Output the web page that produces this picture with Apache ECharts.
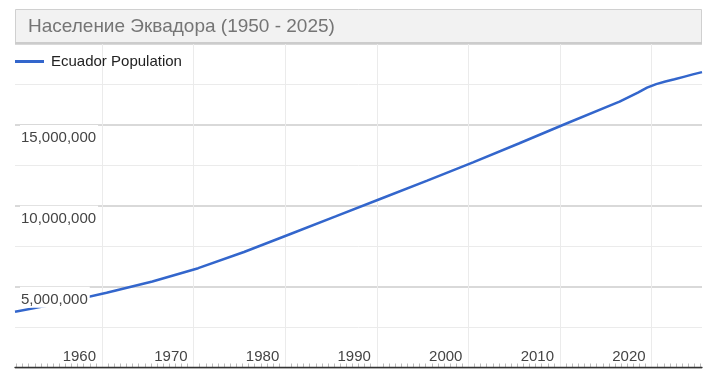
<!DOCTYPE html>
<html>
<head>
<meta charset="utf-8">
<script src="https://cdn.jsdelivr.net/npm/echarts@6/dist/echarts.min.js"></script>
<style>
  html, body { margin: 0; padding: 0; background: #fff; }
  #chart { width: 720px; height: 379px; }
</style>
</head>
<body>
<div id="chart"></div>
<script>
const titleText = 'Население Эквадора (1950 - 2025)';
const seriesName = 'Ecuador Population';
const years = [1950, 1955, 1960, 1965, 1970, 1975, 1980, 1985, 1990, 1995, 2000, 2005, 2010, 2015, 2016, 2017, 2018, 2019, 2020, 2021, 2022, 2023, 2024, 2025];
const population = [3450000, 3980000, 4620000, 5320000, 6140000, 7140000, 8240000, 9340000, 10450000, 11550000, 12680000, 13850000, 15040000, 16210000, 16440000, 16720000, 17000000, 17300000, 17520000, 17680000, 17820000, 17970000, 18120000, 18260000];
const xTickYears = [1960, 1970, 1980, 1990, 2000, 2010, 2020];
const yTicks = [5000000, 10000000, 15000000];

const FONT = '"Liberation Sans", Arial, sans-serif';
const chart = echarts.init(document.getElementById('chart'), null, { renderer: 'canvas' });

// population figures are mid-year estimates (1 July)
const seriesData = years.map((y, i) => [y + 0.5, population[i]]);

const fmtNum = v => String(v).replace(/\B(?=(\d{3})+(?!\d))/g, ',');

chart.setOption({
  animation: false,
  backgroundColor: '#ffffff',
  graphic: [
    { type: 'rect', z: 1, shape: { x: 15.5, y: 9.5, width: 686, height: 33 },
      style: { fill: '#f2f2f2', stroke: '#d0d0d0', lineWidth: 1 } },
    { type: 'line', z: 1, shape: { x1: 15, y1: 43, x2: 702, y2: 43 },
      style: { stroke: '#cccccc', lineWidth: 2 } }
  ],
  title: {
    text: titleText,
    left: 28, top: 17, padding: 0, z: 10,
    textStyle: { fontFamily: FONT, fontSize: 19, fontWeight: 'normal', color: '#757575' }
  },
  legend: {
    left: 15, top: 54, padding: 0,
    icon: 'rect', itemWidth: 29, itemHeight: 3,
    textStyle: { fontFamily: FONT, fontSize: 15, color: '#222222', padding: [0, 0, 0, 2] },
    data: [seriesName]
  },
  grid: { left: 15, right: 18, top: 44, bottom: 11.5, containLabel: false },
  xAxis: [
    {
      type: 'value', min: 1950.5, max: 2025.5, splitNumber: 8, position: 'bottom', z: 3,
      axisLine: { show: true, lineStyle: { color: '#333333', width: 1.3 } },
      axisTick: { show: false, customValues: xTickYears },
      minorTick: { show: false },
      splitLine: { show: true, lineStyle: { color: '#ebebeb', width: 1 } },
      axisLabel: {
        inside: true, customValues: xTickYears, align: 'right', margin: 3,
        padding: [0, 6, 0, 0],
        formatter: v => String(v),
        fontFamily: FONT, fontSize: 15, color: '#444444'
      }
    },
    {
      type: 'value', min: 1950.5, max: 2025.5, splitNumber: 8, position: 'bottom', offset: -4,
      axisLine: { show: false },
      axisTick: { show: false },
      minorTick: { show: true, splitNumber: 15, length: 4, lineStyle: { color: '#bbbbbb', width: 1 } },
      splitLine: { show: false },
      axisLabel: { show: false }
    }
  ],
  yAxis: [
    {
      type: 'value', min: 0, max: 20000000, interval: 5000000, position: 'left',
      axisLine: { show: false }, axisTick: { show: false },
      axisLabel: { show: false },
      splitLine: { show: true, lineStyle: { color: '#d9d9d9', width: 2 } },
      minorTick: { show: false, splitNumber: 2 },
      minorSplitLine: { show: true, lineStyle: { color: '#ebebeb', width: 1 } }
    },
    {
      type: 'value', min: 0, max: 20000000, interval: 5000000, z: 5, position: 'left',
      axisLine: { show: false }, axisTick: { show: false },
      splitLine: { show: false },
      axisLabel: {
        inside: true, margin: 5, verticalAlign: 'top',
        customValues: yTicks,
        formatter: v => fmtNum(v),
        backgroundColor: '#ffffff', padding: [5, 2, 0, 1], lineHeight: 16,
        fontFamily: FONT, fontSize: 15, color: '#444444'
      }
    }
  ],
  series: [{
    name: seriesName, type: 'line', xAxisIndex: 0, yAxisIndex: 0,
    data: seriesData, showSymbol: false, smooth: false,
    color: '#3366cc',
    lineStyle: { color: '#3366cc', width: 2.5 }
  }]
});
</script>
</body>
</html>
